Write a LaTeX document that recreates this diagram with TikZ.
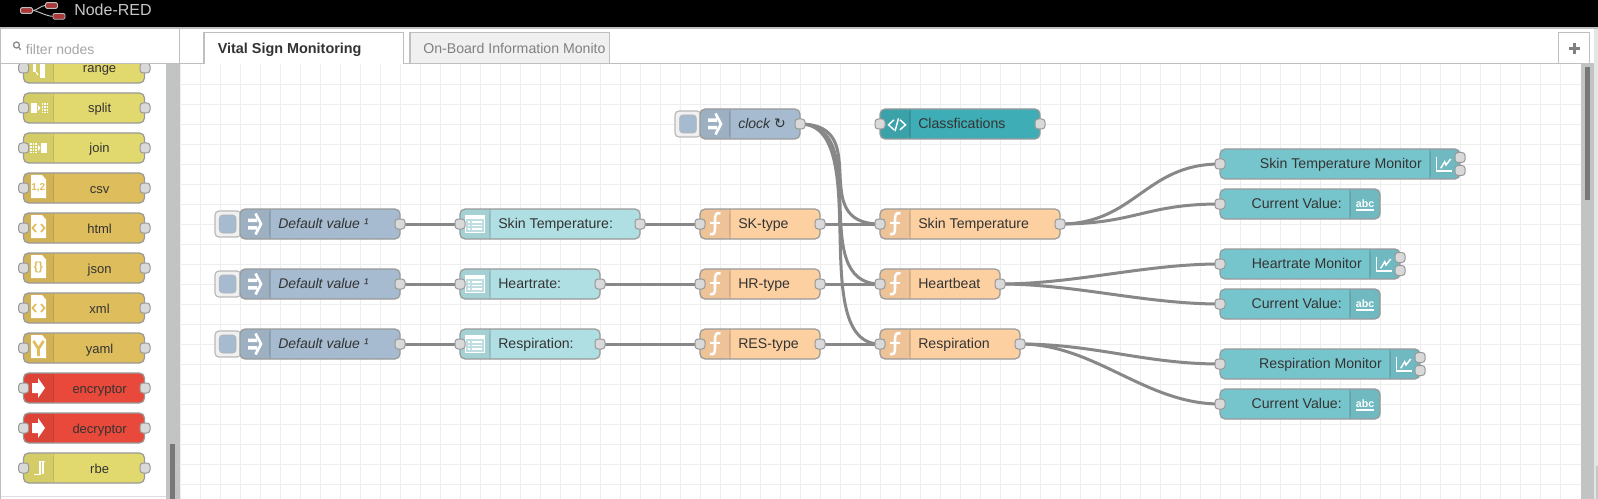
\documentclass[tikz,border=0pt]{standalone}
\usepackage{fontspec}
\setmainfont{Liberation Sans}
\newfontfamily\symfont{DejaVu Sans}
\definecolor{txt}{HTML}{333333}
\definecolor{edge}{HTML}{999999}
\definecolor{wirecol}{HTML}{888888}
\definecolor{portcol}{HTML}{D9D9D9}
\definecolor{gridcol}{HTML}{EEEEEE}
\definecolor{gutter}{HTML}{C2C4C4}
\definecolor{palyellow}{HTML}{E2D96E}
\definecolor{palorange}{HTML}{DEBD5C}
\definecolor{palred}{HTML}{E9493A}
\definecolor{injectcol}{HTML}{A6BBCF}
\definecolor{tablecol}{HTML}{B0DFE3}
\definecolor{funccol}{HTML}{FDD0A2}
\definecolor{dashcol}{HTML}{77C5CC}
\definecolor{tealcol}{HTML}{3FADB5}
\definecolor{logored}{HTML}{A83A3A}
\pgfdeclarelayer{bg}
\pgfdeclarelayer{wires}
\pgfsetlayers{bg,wires,main}
\tikzset{every picture/.style={line width=0.75pt}}
\tikzset{
  every pic/.style={yscale=-1},
  flowbody/.style={draw=edge,line width=0.9pt,rounded corners=3.75pt,minimum height=22.5pt,minimum width=#1*0.75pt,inner sep=0pt,outer sep=0pt,anchor=west},
  lefticon/.style={path picture={
    \fill[black,opacity=0.06] (path picture bounding box.north west) rectangle ([xshift=22.5pt]path picture bounding box.south west);
    \draw[black,opacity=0.12] ([xshift=22.5pt]path picture bounding box.north west) -- ([xshift=22.5pt]path picture bounding box.south west);}},
  righticon/.style={path picture={
    \fill[black,opacity=0.06] ([xshift=-22.5pt]path picture bounding box.north east) rectangle (path picture bounding box.south east);
    \draw[black,opacity=0.12] ([xshift=-22.5pt]path picture bounding box.north east) -- ([xshift=-22.5pt]path picture bounding box.south east);}},
  port/.style={draw=edge,fill=portcol,line width=0.75pt,rounded corners=2.25pt,minimum size=7.5pt,inner sep=0pt},
  injectbtn/.style={draw=gray!55,fill=gray!12,line width=0.9pt,rounded corners=3pt,minimum size=19.5pt,inner sep=0pt},
  injectkey/.style={draw=gray!60,fill=injectcol,rounded corners=2.5pt,minimum width=12.7pt,minimum height=13.5pt,inner sep=0pt},
  lbl/.style={font=\fontsize{10.6pt}{12pt}\selectfont,text=txt,inner sep=0pt,anchor=base west},
  lblend/.style={lbl,anchor=base east},
  pallbl/.style={font=\fontsize{9.75pt}{12pt}\selectfont,text=txt,inner sep=0pt,anchor=base},
  tablbl/.style={font=\fontsize{10.5pt}{12pt}\selectfont,inner sep=0pt,anchor=base west},
  wire/.style={draw=wirecol,line width=2.25pt},
  logobox/.style={draw=white!75!black,fill=logored,line width=0.6pt,rounded corners=1pt,inner sep=0pt,minimum width=9pt,minimum height=4.3pt},
  pics/injecticon/.style={code={
    \fill[white] (-7,-5.5) rectangle (2,-2) (-7,2) rectangle (2,5.5);
    \draw[white,line width=2pt] (0.5,-10.5) -- (6,0) -- (0.5,10.5);}},
  pics/tableicon/.style={code={
    \fill[white,opacity=0.3] (-10,-9) rectangle (9.5,8);
    \fill[white] (-10,-9) rectangle (9.5,-5);
    \draw[white,line width=0.75pt] (-10,-9) rectangle (9.5,8);
    \foreach \ly in {-2,1.5,5}{\draw[white,line width=0.9pt] (-7,\ly) -- (-5.5,\ly) (-3.5,\ly) -- (7,\ly);}}},
  pics/funcicon/.style={code={
    \draw[white,line width=1.9pt] (5.5,-10.5) .. controls (1,-12) and (0,-9) .. (0,-4) -- (0,4) .. controls (0,9) and (-1,11) .. (-5,10);
    \draw[white,line width=1.7pt] (-5,-1.3) -- (5,-1.3);}},
  pics/chevicon/.style={code={
    \draw[white,line width=1.1pt] (-1.5,-5) -- (-7,0) -- (-1.5,5) (3,-6.5) -- (-0.5,6.5) (4.5,-5) -- (10,0) -- (4.5,5);}},
  pics/charticon/.style={code={
    \draw[white,line width=0.9pt] (-8.3,-7.3) -- (-8.3,7) -- (7.3,7);
    \draw[white,line width=1.1pt] (-4.3,4.3) -- (-0.3,-2.3) -- (1,1) -- (5.7,-5);}},
  pics/abcicon/.style={code={
    \node[font=\fontsize{8pt}{9pt}\selectfont\bfseries,text=white,inner sep=0pt] (-txt) at (0,-0.7) {abc};
    \draw[white,line width=1.2pt] (-9,6) -- (9,6);}},
  pics/docicon/.style={code={
    \fill[white] (-8,-13) -- (3,-13) -- (7,-8.5) -- (7,10) -- (-8,10) -- cycle;}},
  pics/splitpat/.style={code={
    \fill[white] (-8,-5) rectangle (-2.3,5);
    \fill[white] (-1,-3) -- (1.5,0) -- (-1,3) -- cycle;
    \foreach \dx in {3.5,6,8.5}{\foreach \dy in {-4,-1,2,4.5}{\fill[white] (\dx-0.7,\dy-0.7) rectangle (\dx+0.7,\dy+0.7);}}}},
  pics/joinpat/.style={code={
    \fill[white] (8,-5) rectangle (2.3,5);
    \fill[white] (-1,-3) -- (1.5,0) -- (-1,3) -- cycle;
    \foreach \dx in {-8,-5.5,-3}{\foreach \dy in {-4,-1,2,4.5}{\fill[white] (\dx-0.7,\dy-0.7) rectangle (\dx+0.7,\dy+0.7);}}}},
  pics/rangepat/.style={code={
    \fill[white] (1,-8) rectangle (5.5,10);
    \fill[white] (-6,-8) rectangle (-3,4);
    \draw[white,line width=0.9pt] (-3,4) -- (-1,7);}},
  pics/arrowpat/.style={code={
    \fill[white] (-7,-5) -- (-1,-5) -- (-1,-10) -- (6,0) -- (-1,10) -- (-1,5) -- (-7,5) -- cycle;}},
  pics/rbepat/.style={code={
    \draw[white,line width=0.9pt] (-5.2,6.3) -- (1,6.3) -- (1,-6.3) -- (5.8,-6.3) (4,-6.3) -- (4,6.3);}},
}

\begin{document}
\begin{tikzpicture}[x=0.75pt,y=0.75pt,yscale=-1,xscale=1]
\useasboundingbox (0,0) rectangle (1598,499);

%Canvas and chrome
\begin{pgfonlayer}{bg}
\fill[white] (0,0) rectangle (1598,499);
\foreach \gx in {180.7,200.7,...,1580}{\draw[gridcol,line width=1pt] (\gx,64) -- (\gx,499);}
\foreach \gy in {84.3,104.3,...,499}{\draw[gridcol,line width=1pt] (180,\gy) -- (1581,\gy);}
\fill[gutter] (166,63) rectangle (180,499);
\fill[gutter] (1581,63) rectangle (1594,499);
\fill[gray!20] (1594,28) rectangle (1598,499);
\fill[gray!45] (1596,466) rectangle (1598,499);
\fill[white!47!black] (170,444) rectangle (175,499);
\fill[white!47!black] (1585,67) rectangle (1590,200);
\draw[gray!25] (0,496.7) -- (166,496.7);
\end{pgfonlayer}

%Palette nodes
\begin{scope}
\clip (0,64) rectangle (166,499);
\foreach \yy/\nm/\col in {68/range/palyellow,108/split/palyellow,148/join/palyellow,188/csv/palorange,228/html/palorange,268/json/palorange,308/xml/palorange,348/yaml/palorange,388/encryptor/palred,428/decryptor/palred,468/rbe/palyellow}{
  \node[flowbody=121,lefticon,fill=\col] (\nm) at (23.5,\yy) {};
  \node[pallbl] (\nm lbl) at (99.6,\yy+5) {\nm};
  \node[port] (\nm in) at (23.7,\yy) {};
  \node[port] (\nm out) at (145,\yy) {};
}
\pic at (39,68) {rangepat};
\pic at (39,108) {splitpat};
\pic at (39,148) {joinpat};
\foreach \yy in {188,228,268,308,348}{\pic at (39,\yy) {docicon};}
\node[font=\fontsize{7.5pt}{9pt}\selectfont\bfseries,text=palorange,inner sep=0pt] (csvtxt) at (38.2,188) {1,2};
\foreach \yy in {228,308}{\draw[palorange,line width=1.3pt] (36,\yy-4) -- (32.5,\yy) -- (36,\yy+4) (41,\yy-4) -- (44.5,\yy) -- (41,\yy+4);}
\node[font=\fontsize{9pt}{9pt}\selectfont\bfseries,text=palorange,inner sep=0pt] (jsontxt) at (38.3,267) {\{\}};
\draw[palorange,line width=2pt] (33.5,341) -- (38.5,349) -- (43.5,341) (38.5,349) -- (38.5,356);
\pic at (39,388) {arrowpat};
\pic at (39,428) {arrowpat};
\pic at (39,468) {rbepat};
\end{scope}

%Inject nodes
\foreach \id/\yy in {skinval/224,heartval/284,respval/344}{
  \node[injectbtn] (\id btn) at (228,\yy) {};
  \node[injectkey] (\id key) at (227.7,\yy) {};
  \node[flowbody=160,lefticon,fill=injectcol] (\id) at (240,\yy) {};
  \pic at (255,\yy) {injecticon};
  \node[lbl,font=\fontsize{10.5pt}{12pt}\selectfont\itshape] (\id lbl) at (278,\yy+4.4) {Default value ¹};
  \node[port] (\id out) at (400,\yy) {};
}
\node[injectbtn] (clockbtn) at (688,124) {};
\node[injectkey] (clockkey) at (688,124) {};
\node[flowbody=100,lefticon,fill=injectcol] (clock) at (700,124) {};
\pic at (715,124) {injecticon};
\node[lbl,font=\fontsize{10.5pt}{12pt}\selectfont\itshape] (clocklbl) at (738,128.4) {clock {\symfont\upshape ↻}};
\node[port] (clockout) at (800,124) {};

%Table nodes
\node[flowbody=180,lefticon,fill=tablecol] (skintab) at (460,224) {};
\node[flowbody=140,lefticon,fill=tablecol] (hearttab) at (460,284) {};
\node[flowbody=140,lefticon,fill=tablecol] (resptab) at (460,344) {};
\foreach \yy in {224,284,344}{\pic at (475,\yy) {tableicon};}
\node[lbl] (skintablbl) at (498,228.4) {Skin Temperature:};
\node[lbl] (hearttablbl) at (498,288.4) {Heartrate:};
\node[lbl] (resptablbl) at (498,348.4) {Respiration:};
\node[port] (skintabin) at (460,224) {};
\node[port] (hearttabin) at (460,284) {};
\node[port] (resptabin) at (460,344) {};
\node[port] (skintabout) at (640,224) {};
\node[port] (hearttabout) at (600,284) {};
\node[port] (resptabout) at (600,344) {};

%Type functions
\node[flowbody=120,lefticon,fill=funccol] (sktype) at (700,224) {};
\node[flowbody=120,lefticon,fill=funccol] (hrtype) at (700,284) {};
\node[flowbody=120,lefticon,fill=funccol] (restype) at (700,344) {};
\foreach \yy in {224,284,344}{\pic at (715,\yy) {funcicon};}
\node[lbl] (sktypelbl) at (738,228.4) {SK-type};
\node[lbl] (hrtypelbl) at (738,288.4) {HR-type};
\node[lbl] (restypelbl) at (738,348.4) {RES-type};
\node[port] (sktypein) at (700,224) {};
\node[port] (hrtypein) at (700,284) {};
\node[port] (restypein) at (700,344) {};
\node[port] (sktypeout) at (820,224) {};
\node[port] (hrtypeout) at (820,284) {};
\node[port] (restypeout) at (820,344) {};

%Template
\node[flowbody=160,lefticon,fill=tealcol] (classes) at (880,124) {};
\pic at (895.5,124.8) {chevicon};
\node[lbl] (classeslbl) at (918,128.4) {Classfications};
\node[port] (classesin) at (880,124) {};
\node[port] (classesout) at (1040,124) {};

%Output functions
\node[flowbody=180,lefticon,fill=funccol] (skinfn) at (880,224) {};
\node[flowbody=120,lefticon,fill=funccol] (heartfn) at (880,284) {};
\node[flowbody=140,lefticon,fill=funccol] (respfn) at (880,344) {};
\foreach \yy in {224,284,344}{\pic at (895,\yy) {funcicon};}
\node[lbl] (skinfnlbl) at (918,228.4) {Skin Temperature};
\node[lbl] (heartfnlbl) at (918,288.4) {Heartbeat};
\node[lbl] (respfnlbl) at (918,348.4) {Respiration};
\node[port] (skinfnin) at (880,224) {};
\node[port] (heartfnin) at (880,284) {};
\node[port] (respfnin) at (880,344) {};
\node[port] (skinfnout) at (1060,224) {};
\node[port] (heartfnout) at (1000,284) {};
\node[port] (respfnout) at (1020,344) {};

%Chart nodes
\foreach \id/\yy/\bw/\txtv in {skinchart/164/240/Skin Temperature Monitor,heartchart/264/180/Heartrate Monitor,respchart/364/200/Respiration Monitor}{
  \node[flowbody=\bw,righticon,fill=dashcol] (\id) at (1220,\yy) {};
  \pic at (1220+\bw-15,\yy) {charticon};
  \node[lblend] (\id lbl) at (1220+\bw-38,\yy+4.4) {\txtv};
  \node[port] (\id in) at (1220,\yy) {};
  \node[port] (\id outa) at (1220+\bw,\yy-6.5) {};
  \node[port] (\id outb) at (1220+\bw,\yy+6.5) {};
}

%Text nodes
\foreach \id/\yy in {skintext/204,hearttext/304,resptext/404}{
  \node[flowbody=160,righticon,fill=dashcol] (\id) at (1220,\yy) {};
  \pic (\id abc) at (1365,\yy) {abcicon};
  \node[lblend] (\id lbl) at (1342,\yy+4.4) {Current Value:};
  \node[port] (\id in) at (1220,\yy) {};
}

%Wires
\begin{pgfonlayer}{wires}
\foreach \id/\tb in {skinval/skintabin,heartval/hearttabin,respval/resptabin}{\draw[wire] (\id out.center) -- (\tb.center);}
\draw[wire] (skintabout.center) -- (sktypein.center);
\draw[wire] (hearttabout.center) -- (hrtypein.center);
\draw[wire] (resptabout.center) -- (restypein.center);
\draw[wire] (sktypeout.center) -- (skinfnin.center);
\draw[wire] (hrtypeout.center) -- (heartfnin.center);
\draw[wire] (restypeout.center) -- (respfnin.center);
\draw[wire] (clockout.center) .. controls +(75,0) and +(-75,0) .. (skinfnin.center);
\draw[wire] (clockout.center) .. controls +(75,0) and +(-75,0) .. (heartfnin.center);
\draw[wire] (clockout.center) .. controls +(75,0) and +(-75,0) .. (respfnin.center);
\draw[wire] (skinfnout.center) .. controls +(75,0) and +(-75,0) .. (skinchartin.center);
\draw[wire] (skinfnout.center) .. controls +(75,0) and +(-75,0) .. (skintextin.center);
\draw[wire] (heartfnout.center) .. controls +(75,0) and +(-75,0) .. (heartchartin.center);
\draw[wire] (heartfnout.center) .. controls +(75,0) and +(-75,0) .. (hearttextin.center);
\draw[wire] (respfnout.center) .. controls +(75,0) and +(-75,0) .. (respchartin.center);
\draw[wire] (respfnout.center) .. controls +(75,0) and +(-75,0) .. (resptextin.center);
\end{pgfonlayer}

%Header bar
\fill[black] (0,0) rectangle (1598,28);
\node[logobox] (logoa) at (26.5,10.5) {};
\node[logobox] (logob) at (51.5,5.5) {};
\node[logobox] (logoc) at (59,16.3) {};
\draw[white!75!black,line width=0.7pt] (logoa.east) .. controls +(4,0) and +(-4,0) .. (logob.west);
\draw[white!75!black,line width=0.7pt] (logoa.east) .. controls +(4,0) and +(-6,0) .. (logoc.west);
\node[font=\fontsize{12pt}{14pt}\selectfont,text=gray!45,inner sep=0pt,anchor=base west] (brand) at (74,16) {Node-RED};

%Tab bar
\fill[white] (0,28) rectangle (1594,63);
\draw[gray!50,line width=1pt] (0,28) -- (1598,28);
\draw[gray!50,line width=1pt] (0,63.5) -- (1581,63.5);
\draw[gray!50,line width=1pt] (0.5,28) -- (0.5,499);
\draw[gray!50,line width=1pt] (179.5,28) -- (179.5,64);
\draw[gray!90,line width=1pt] (16.5,45) circle (3) (18.7,47.2) -- (20.6,49.8);
\node[tablbl,text=gray!70] (filter) at (25.7,54.5) {filter nodes};
\draw[gray!50,line width=1pt,fill=white] (204,64) -- (204,32.5) -- (403.5,32.5) -- (403.5,64);
\node[tablbl,font=\fontsize{10.8pt}{12pt}\selectfont\bfseries,text=txt] (tabone) at (217.5,53.6) {Vital Sign Monitoring};
\draw[gray!50,line width=1pt,fill=gray!12] (410,63.5) -- (410,32.5) -- (609.5,32.5) -- (609.5,63.5) -- cycle;
\node[tablbl,text=gray,font=\fontsize{10.6pt}{12pt}\selectfont] (tabtwo) at (423,53.6) {On-Board Information Monito};
\draw[gray!50,line width=1pt] (1558.5,63.5) -- (1558.5,32.5) -- (1589.5,32.5) -- (1589.5,63.5);
\draw[gray,line width=2.2pt] (1569,48.5) -- (1580,48.5) (1574.5,43) -- (1574.5,54);
\end{tikzpicture}
\end{document}
